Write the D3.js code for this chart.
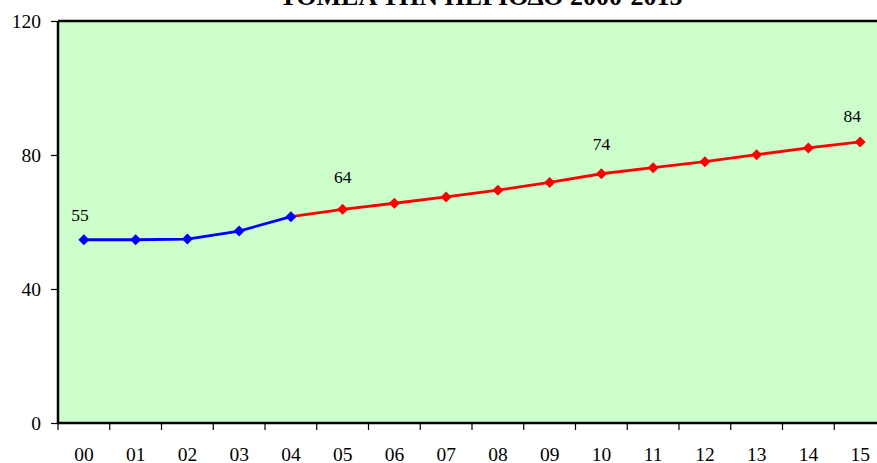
<!DOCTYPE html>
<html>
<head>
<meta charset="utf-8">
<script src="https://cdn.jsdelivr.net/npm/d3@7"></script>
<style>
  html, body { margin: 0; padding: 0; background: #ffffff; }
  svg { display: block; }
</style>
</head>
<body>
<svg id="chart" width="877" height="463"></svg>
<script>
// ---- data ----
const years = ["00","01","02","03","04","05","06","07","08","09","10","11","12","13","14","15"];
const actualYears = ["00","01","02","03","04"];
const actualValues = [54.7, 54.7, 54.9, 57.3, 61.6];
const forecastYears = ["04","05","06","07","08","09","10","11","12","13","14","15"];
const forecastValues = [61.6, 63.8, 65.6, 67.5, 69.5, 71.8, 74.4, 76.2, 78.0, 80.1, 82.1, 83.9];
const labeledYears = ["00","05","10","15"];
const yTicks = [0, 40, 80, 120];
const titleText = "ΤΟΜΕΑ ΤΗΝ ΠΕΡΙΟΔΟ 2000-2015";

(function () {
// ---- layout ----
const svg = d3.select("#chart");
const pLeft = 58, pRight = 886, pTop = 21, pBottom = 423;
const serif = "'Liberation Serif', 'Times New Roman', serif";

const x = d3.scaleBand().domain(years).range([pLeft, pRight]).padding(0);
const y = d3.scaleLinear().domain([0, 120]).range([pBottom, pTop]);
const cx = d => x(d) + x.bandwidth() / 2;

// plot background
svg.append("rect")
  .attr("x", pLeft).attr("y", pTop)
  .attr("width", pRight - pLeft).attr("height", pBottom - pTop)
  .attr("fill", "#CCFFCC");

// title (cut off at top in the original)
svg.append("text")
  .attr("x", 481).attr("y", 5)
  .attr("text-anchor", "middle")
  .attr("font-family", serif).attr("font-weight", "bold")
  .attr("font-size", 26)
  .text(titleText);

// borders
svg.append("line").attr("x1", pLeft).attr("x2", pRight).attr("y1", pTop).attr("y2", pTop)
  .attr("stroke", "#000").attr("stroke-width", 2.5);
svg.append("line").attr("x1", pLeft).attr("x2", pLeft).attr("y1", pTop).attr("y2", pBottom)
  .attr("stroke", "#000").attr("stroke-width", 2.5);

// y axis
const yAxis = d3.axisLeft(y).tickValues(yTicks).tickSize(7).tickPadding(10).tickFormat(d3.format("d"));
const gy = svg.append("g").attr("transform", `translate(${pLeft},0)`).call(yAxis);
gy.select(".domain").remove();
gy.selectAll(".tick line").attr("stroke", "#000").attr("stroke-width", 1.2);
gy.selectAll(".tick text").attr("font-family", serif).attr("font-size", 19.5).attr("fill", "#000");

// x axis (ticks at category boundaries)
const boundaries = years.map(d => x(d));
const gx = svg.append("g");
gx.selectAll("line.tk").data(boundaries).join("line")
  .attr("class", "tk")
  .attr("x1", d => d).attr("x2", d => d)
  .attr("y1", pBottom).attr("y2", pBottom + 7)
  .attr("stroke", "#000").attr("stroke-width", 1.2);
gx.selectAll("text.tl").data(years).join("text")
  .attr("class", "tl")
  .attr("x", d => cx(d)).attr("y", 461)
  .attr("text-anchor", "middle")
  .attr("font-family", serif).attr("font-size", 19.5)
  .text(d => d);
svg.append("line").attr("x1", pLeft - 1).attr("x2", pRight).attr("y1", pBottom).attr("y2", pBottom)
  .attr("stroke", "#000").attr("stroke-width", 2.5);

// series
const line = d3.line().x(d => cx(d[0])).y(d => y(d[1]));
const actual = actualYears.map((d, i) => [d, actualValues[i]]);
const forecast = forecastYears.map((d, i) => [d, forecastValues[i]]);

svg.append("path").datum(forecast).attr("d", line)
  .attr("fill", "none").attr("stroke", "#FF0000").attr("stroke-width", 2.8);
svg.append("path").datum(actual).attr("d", line)
  .attr("fill", "none").attr("stroke", "#0000FF").attr("stroke-width", 2.8);

const diamond = (px, py, r) => `M${px},${py - r}L${px + r},${py}L${px},${py + r}L${px - r},${py}Z`;
svg.selectAll("path.fm").data(forecast.slice(1)).join("path")
  .attr("class", "fm")
  .attr("d", d => diamond(cx(d[0]), y(d[1]), 5.5)).attr("fill", "#FF0000");
svg.selectAll("path.am").data(actual).join("path")
  .attr("class", "am")
  .attr("d", d => diamond(cx(d[0]), y(d[1]), 5.5)).attr("fill", "#0000FF");

// data labels
const allVals = {};
actual.forEach(d => allVals[d[0]] = d[1]);
forecast.forEach(d => allVals[d[0]] = d[1]);
const labelShift = { "00": [-4, -19], "05": [0, -26], "10": [0, -24], "15": [-8, -20] };
svg.selectAll("text.dl").data(labeledYears).join("text")
  .attr("class", "dl")
  .attr("x", d => cx(d) + labelShift[d][0])
  .attr("y", d => y(allVals[d]) + labelShift[d][1])
  .attr("text-anchor", "middle")
  .attr("font-family", serif).attr("font-size", 17.5).attr("fill", "#000")
  .text(d => d3.format(".0f")(allVals[d]));
})();
</script>
</body>
</html>
